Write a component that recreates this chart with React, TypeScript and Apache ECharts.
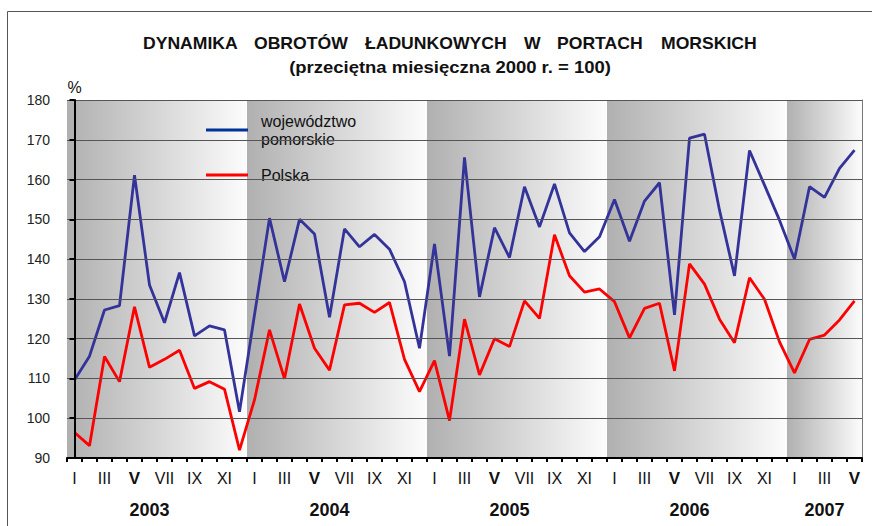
import React, { useEffect, useRef } from "react";
import * as echarts from "echarts";

const monthNames = ["I", "II", "III", "IV", "V", "VI", "VII", "VIII", "IX", "X", "XI", "XII"];
const years = ["2003", "2004", "2005", "2006", "2007"];
const monthsPerYear = [12, 12, 12, 12, 5];
const yearLabelMonth = [5, 5, 5, 5, 2];

const pomorskie = [
  109.6, 115.6, 127.2, 128.3, 161.1, 133.5, 124.0, 136.6, 120.7, 123.2, 122.2, 101.6,
  126.0, 150.3, 134.3, 150.0, 146.3, 125.4, 147.6, 143.1, 146.2, 142.5, 134.3, 117.6,
  143.8, 115.6, 165.6, 130.5, 147.9, 140.4, 158.2, 148.1, 158.9, 146.6, 141.9, 145.6,
  155.0, 144.5, 154.6, 159.2, 126.0, 170.4, 171.4, 152.3, 135.8, 167.3, 158.6, 149.8,
  140.0, 158.2, 155.5, 162.8, 167.4,
];

const polska = [
  96.4, 93.1, 115.5, 109.2, 128.0, 112.8, 114.8, 117.1, 107.5, 109.2, 107.3, 92.0,
  104.6, 122.2, 109.9, 128.7, 117.6, 112.1, 128.5, 128.9, 126.6, 129.1, 114.8, 106.7,
  114.5, 99.4, 124.9, 110.9, 120.0, 118.0, 129.5, 125.1, 146.1, 135.8, 131.7, 132.5,
  129.3, 120.2, 127.6, 128.9, 111.9, 138.8, 133.7, 124.9, 119.0, 135.3, 129.9, 119.2,
  111.4, 119.8, 120.9, 124.7, 129.5,
];

const seriesNames = ["województwo\npomorskie", "Polska"];
const titleWords = ["DYNAMIKA", "OBROTÓW", "ŁADUNKOWYCH", "W", "PORTACH", "MORSKICH"];
const titleWordX = [143, 254, 365, 524, 557, 661];
const subtitleText = "(przeciętna miesięczna 2000 r. = 100)";

const FONT = "'Liberation Sans', Arial, sans-serif";

export default function App() {
  const ref = useRef<HTMLDivElement>(null);

  useEffect(() => {
    document.body.style.margin = "0";
    if (!ref.current) return;
    const chart = echarts.init(ref.current, null, { renderer: "svg" });

    const categories: string[] = [];
    const yearCats: string[] = [];
    const bands: any[] = [];
    let idx = 0;
    years.forEach((y, yi) => {
      const n = monthsPerYear[yi];
      bands.push([
        {
          xAxis: idx - 0.5,
          itemStyle: {
            color: new echarts.graphic.LinearGradient(0, 0, 1, 0, [
              { offset: 0, color: "#b0b0b0" },
              { offset: 1, color: "#fcfcfc" },
            ]),
          },
        },
        { xAxis: idx + n - 0.5 },
      ]);
      for (let m = 0; m < n; m++) {
        categories.push(monthNames[m]);
        yearCats.push(m === yearLabelMonth[yi] ? y : "");
      }
      idx += n;
    });

    const titleGraphics = titleWords.map((w, i) => ({
      type: "text",
      x: titleWordX[i],
      y: 44,
      scaleX: 1.1,
      silent: true,
      style: {
        text: w,
        fontFamily: FONT,
        fontSize: 16,
        fontWeight: "bold",
        fill: "#111",
        textAlign: "left",
        textVerticalAlign: "middle",
      },
    }));

    const option: any = {
      animation: false,
      textStyle: { fontFamily: FONT },
      legend: {
        orient: "vertical",
        left: 201,
        top: 107,
        itemWidth: 42,
        itemHeight: 3,
        itemGap: 18,
        icon: "rect",
        data: [
          { name: seriesNames[0], itemStyle: { color: "#003399" } },
          { name: seriesNames[1], itemStyle: { color: "#ff0000" } },
        ],
        textStyle: { fontFamily: FONT, fontSize: 16, lineHeight: 18, color: "#111", padding: [0, 0, 0, 8] },
      },
      graphic: [
        {
          type: "rect",
          shape: { x: 7.5, y: 11.5, width: 900, height: 600 },
          style: { fill: "none", stroke: "#555", lineWidth: 1 },
          silent: true,
        },
        ...titleGraphics,
        {
          type: "text",
          x: 450,
          y: 67,
          scaleX: 1.12,
          silent: true,
          style: {
            text: subtitleText,
            fontFamily: FONT,
            fontSize: 16.5,
            fontWeight: "bold",
            fill: "#111",
            textAlign: "center",
            textVerticalAlign: "middle",
          },
        },
      ],
      grid: { left: 67, right: 10, top: 100, bottom: 68 },
      xAxis: [
        {
          type: "category",
          data: categories,
          boundaryGap: true,
          axisLine: { lineStyle: { color: "#000", width: 2 } },
          axisTick: { show: true, interval: 0, length: 4, lineStyle: { color: "#000", width: 2 } },
          axisLabel: {
            interval: 1,
            margin: 12,
            fontFamily: FONT,
            fontSize: 16,
            color: "#111",
            formatter: (v: string) => (v === "V" ? "{b|V}" : v),
            rich: { b: { fontWeight: "bold", fontSize: 17, fontFamily: FONT, color: "#111" } },
          },
          splitLine: { show: false },
          z: 5,
        },
        {
          type: "value",
          min: -0.5,
          max: categories.length - 0.5,
          show: false,
        },
        {
          type: "category",
          data: yearCats,
          position: "bottom",
          boundaryGap: true,
          axisLine: { show: false },
          axisTick: { show: false },
          axisLabel: {
            interval: 0,
            margin: 43,
            fontFamily: FONT,
            fontSize: 18,
            fontWeight: "bold",
            color: "#111",
          },
          splitLine: { show: false },
        },
      ],
      yAxis: [
        {
          type: "value",
          min: 90,
          max: 180,
          interval: 10,
          name: "%",
          nameGap: 5,
          nameTextStyle: { fontFamily: FONT, fontSize: 16, color: "#111" },
          axisLine: { show: true, lineStyle: { color: "#000", width: 2 } },
          axisTick: { show: true, length: 5, lineStyle: { color: "#000", width: 2 } },
          axisLabel: { fontFamily: FONT, fontSize: 14, color: "#222", margin: 17 },
          splitLine: { show: true, lineStyle: { color: "#555", width: 1 } },
          z: 5,
        },
        {
          type: "value",
          min: 90,
          max: 180,
          position: "right",
          axisLine: { show: true, lineStyle: { color: "#777", width: 1 } },
          axisTick: { show: false },
          axisLabel: { show: false },
          splitLine: { show: false },
        },
      ],
      series: [
        {
          name: "bands",
          type: "line",
          xAxisIndex: 1,
          yAxisIndex: 0,
          data: [],
          silent: true,
          z: -1,
          markArea: { silent: true, data: bands },
        },
        {
          name: seriesNames[0],
          type: "line",
          data: pomorskie,
          symbol: "none",
          lineStyle: { color: "#333399", width: 2.8 },
          itemStyle: { color: "#333399" },
          z: 3,
        },
        {
          name: seriesNames[1],
          type: "line",
          data: polska,
          symbol: "none",
          lineStyle: { color: "#ff0000", width: 2.8 },
          itemStyle: { color: "#ff0000" },
          z: 3,
        },
      ],
    };

    chart.setOption(option);
    return () => chart.dispose();
  }, []);

  return <div ref={ref} style={{ width: 872, height: 526 }} />;
}
